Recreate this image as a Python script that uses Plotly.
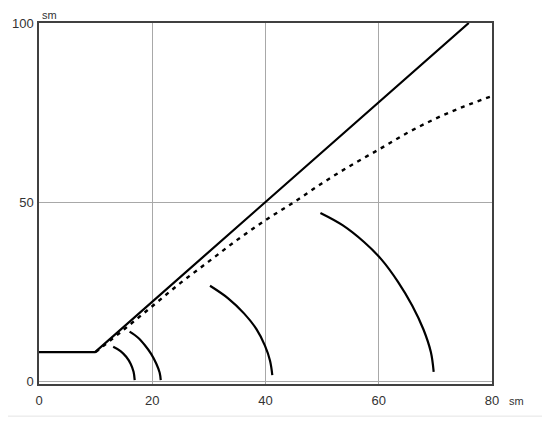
import plotly.graph_objects as go

# solid boundary line
solid_x = [0, 9.9, 75.9]
solid_y = [8.2, 8.2, 100]

# dashed curve
dash_x = [10, 15, 20, 25, 30, 35, 40, 45, 50, 55, 60, 65, 70, 75, 80]
dash_y = [8.2, 14.5, 21.0, 27.5, 33.5, 39.5, 45.0, 50.0, 55.3, 60.2, 64.7, 69.3, 73.3, 76.7, 79.6]

# arcs
arc1_x = [13.1, 14.4, 15.4, 16.2, 16.7, 16.9]
arc1_y = [9.7, 8.5, 6.9, 4.9, 2.7, 0.4]
arc2_x = [16.0, 17.5, 18.7, 19.8, 20.7, 21.3, 21.5]
arc2_y = [13.9, 12.2, 10.1, 7.7, 5.0, 2.5, 0.4]
arc3_x = [30.2, 33.4, 36.2, 38.4, 39.9, 40.8, 41.2]
arc3_y = [26.7, 23.2, 19.0, 14.6, 10.0, 5.8, 1.8]
arc4_x = [49.7, 53.6, 57.4, 60.5, 63.4, 65.9, 67.9, 69.2, 69.7]
arc4_y = [47.0, 43.6, 38.9, 34.0, 27.8, 21.2, 14.5, 8.2, 2.7]

x_ticks = [0, 20, 40, 60, 80]
y_ticks = [0, 50, 100]

fig = go.Figure()

line_style = dict(color="black", width=2.2)
fig.add_trace(go.Scatter(x=solid_x, y=solid_y, mode="lines", line=line_style))
fig.add_trace(go.Scatter(x=dash_x, y=dash_y, mode="lines", line_shape="spline",
                         line=dict(color="black", width=2.4, dash="4px,5px")))
for ax, ay in [(arc1_x, arc1_y), (arc2_x, arc2_y), (arc3_x, arc3_y), (arc4_x, arc4_y)]:
    fig.add_trace(go.Scatter(x=ax, y=ay, mode="lines", line_shape="spline", line=line_style))

axis_font = dict(family="Liberation Sans", size=13, color="#333333")

# page body adds 8px offset, margins compensate
fig.update_layout(
    width=550, height=424,
    margin=dict(l=31, r=66, t=15, b=48),
    plot_bgcolor="white", paper_bgcolor="white",
    showlegend=False,
    xaxis=dict(range=[0, 80], tickvals=x_ticks, showgrid=True, gridcolor="#a8a8a8", gridwidth=1,
               zeroline=False, showline=True, mirror=True, linecolor="#404040", linewidth=1.5,
               tickfont=axis_font, ticks="", ticklabelstandoff=4, automargin=False),
    yaxis=dict(range=[-0.7, 100], tickvals=y_ticks, showgrid=True, gridcolor="#a8a8a8", gridwidth=1,
               zeroline=False, showline=True, mirror=True, linecolor="#404040", linewidth=1.5,
               tickfont=axis_font, ticks="", ticklabelstandoff=1, automargin=False),
    annotations=[
        dict(text="sm", xref="paper", yref="paper", x=0.0, y=1.0416, xanchor="left", yanchor="top",
             xshift=2, borderpad=0, showarrow=False,
             font=dict(family="Liberation Sans", size=11, color="#333333")),
        dict(text="sm", xref="paper", yref="paper", x=1.0, y=0.0, xanchor="left", yanchor="top",
             xshift=15, yshift=-9, showarrow=False, font=dict(family="Liberation Sans", size=11, color="#333333")),
    ],
    shapes=[
        dict(type="line", xref="paper", yref="paper", x0=-0.07, x1=1.117, y0=-0.089, y1=-0.089,
             line=dict(color="#e4e4e4", width=1)),
    ],
)

fig.write_html("out.html")
